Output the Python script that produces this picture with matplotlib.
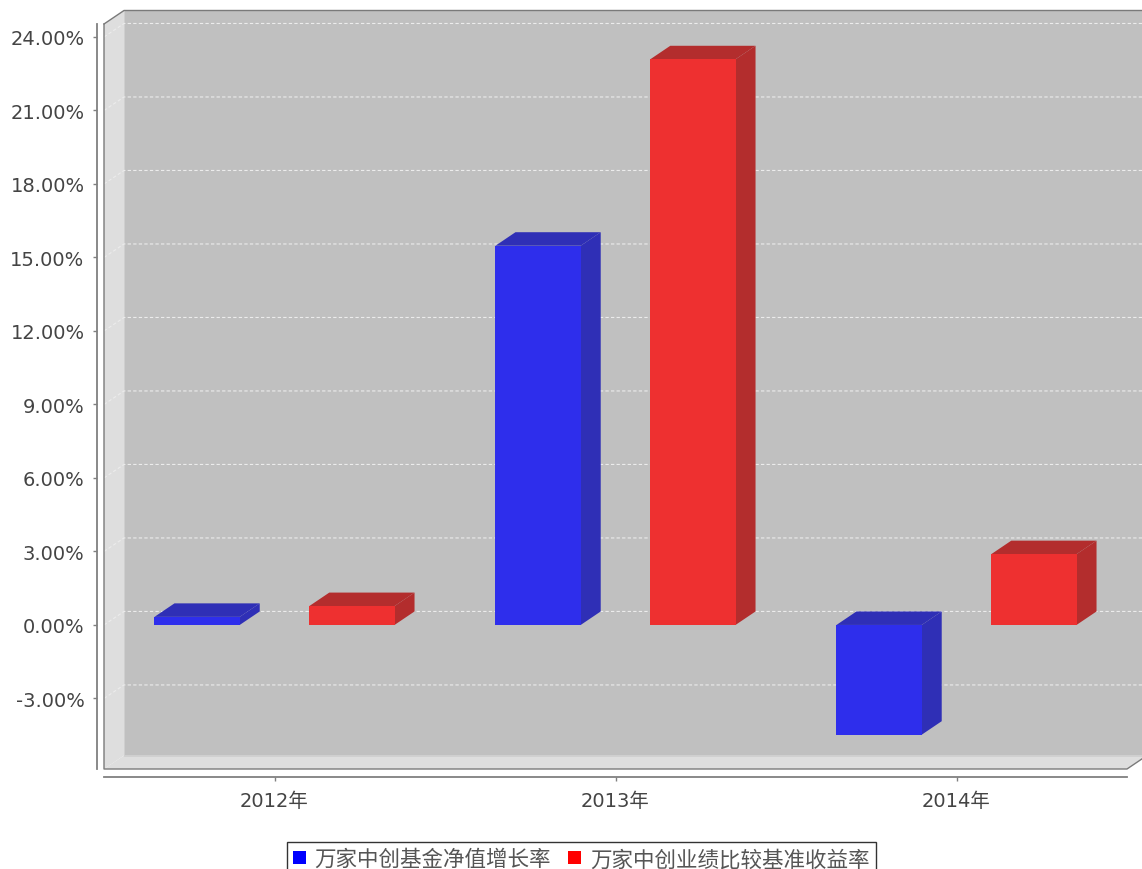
import numpy as np
import matplotlib
matplotlib.use('Agg')
import matplotlib.pyplot as plt
from matplotlib.patches import Polygon, Patch

plt.rcParams['font.family'] = ['DejaVu Sans', 'Noto Sans CJK SC']

# data
years = ['2012年', '2013年', '2014年']
fund = [0.33, 15.48, -4.48]        # 万家中创基金净值增长率 (%)
bench = [0.77, 23.09, 2.89]        # 万家中创业绩比较基准收益率 (%)
names = ['万家中创基金净值增长率', '万家中创业绩比较基准收益率']
yticks = [-3, 0, 3, 6, 9, 12, 15, 18, 21, 24]

front = ['#2e2eec', '#ee3030']
shade = ['#2f2fb6', '#b32d2d']

W, H = 1142, 870
fig = plt.figure(figsize=(W/100, H/100), dpi=100)
# axes = front plane of the 3d box
ax = fig.add_axes([104/W, 100/H, 1023/W, 745/H])
ax.set_xlim(-0.5, 2.5)
ax.set_ylim(-5.88, 24.53)
ax.patch.set_visible(False)

# depth offset (20px right, 13.5px up) converted to data units
dx = 20 / (1023/3)
dy = 13.5 / (745/(24.53+5.88))
x0, x1 = ax.get_xlim()
y0, y1 = ax.get_ylim()

# walls
ax.add_patch(Polygon([(x0+dx, y0+dy), (x1+dx, y0+dy), (x1+dx, y1+dy), (x0+dx, y1+dy)],
                     closed=True, fc='#c0c0c0', ec='none', clip_on=False, zorder=0))
ax.add_patch(Polygon([(x0, y0), (x0+dx, y0+dy), (x0+dx, y1+dy), (x0, y1)],
                     closed=True, fc='#dedede', ec='none', clip_on=False, zorder=0))
ax.add_patch(Polygon([(x0, y0), (x1, y0), (x1+dx, y0+dy), (x0+dx, y0+dy)],
                     closed=True, fc='#dedede', ec='none', clip_on=False, zorder=0))
# inner edges
ax.plot([x0+dx, x0+dx, x1+dx], [y1+dy, y0+dy, y0+dy], color='#d0d0d0', lw=0.7,
        clip_on=False, zorder=0.5)
# outline
ax.plot([x0, x0, x1, x1+dx], [y1, y0, y0, y0+dy], color='#7a7a7a', lw=1.0,
        clip_on=False, zorder=3)
ax.plot([x0, x0+dx, x1+dx], [y1, y1+dy, y1+dy], color='#7a7a7a', lw=1.0,
        clip_on=False, zorder=3)

# grid on left wall and back wall
for v in yticks:
    ax.plot([x0, x0+dx, x1+dx], [v, v+dy, v+dy], color='#ececec', lw=0.8,
            dashes=(3, 2), clip_on=False, zorder=1)

# 3d bars
x = np.arange(len(years))
bw = 0.25
offs = [-0.227, 0.227]
for k, vals in enumerate([fund, bench]):
    for xi, v in zip(x, vals):
        l = xi + offs[k] - bw/2
        r = xi + offs[k] + bw/2
        lo, hi = min(v, 0), max(v, 0)
        ax.add_patch(Polygon([(l, hi), (r, hi), (r+dx, hi+dy), (l+dx, hi+dy)],
                             closed=True, fc=shade[k], ec='none', zorder=4))
        ax.add_patch(Polygon([(r, lo), (r+dx, lo+dy), (r+dx, hi+dy), (r, hi)],
                             closed=True, fc=shade[k], ec='none', zorder=4))
    ax.bar(x + offs[k], vals, width=bw, color=front[k], zorder=5)

# axes
for s in ['top', 'right']:
    ax.spines[s].set_visible(False)
ax.spines['left'].set_position(('outward', 5))
ax.spines['bottom'].set_position(('outward', 5.5))
for s in ['left', 'bottom']:
    ax.spines[s].set_color('#808080')
    ax.spines[s].set_linewidth(1.3)

ax.set_yticks(yticks)
ax.set_yticklabels(['%.2f%%' % v for v in yticks])
ax.set_xticks(x)
ax.set_xticklabels(years)
ax.tick_params(axis='y', length=3, width=1, color='#808080', pad=6,
               labelsize=14, labelcolor='#444444')
ax.tick_params(axis='x', length=3, width=1, color='#808080', pad=7,
               labelsize=14, labelcolor='#444444')

handles = [Patch(facecolor='#0000ff', edgecolor='none'),
           Patch(facecolor='#ff0000', edgecolor='none')]
leg = fig.legend(handles, names, loc='upper center', bbox_to_anchor=(0.509, 1-832/H),
                 ncol=2, frameon=True, fancybox=False,
                 prop={'family': ['Noto Sans CJK SC', 'DejaVu Sans'], 'size': 15.5},
                 handlelength=0.6, handleheight=0.6, handletextpad=0.4,
                 columnspacing=0.8, borderpad=0.3, labelcolor='#555555')
leg.get_frame().set_edgecolor('black')
leg.get_frame().set_linewidth(1.0)

fig.savefig('out.png', dpi=100, facecolor='white')
